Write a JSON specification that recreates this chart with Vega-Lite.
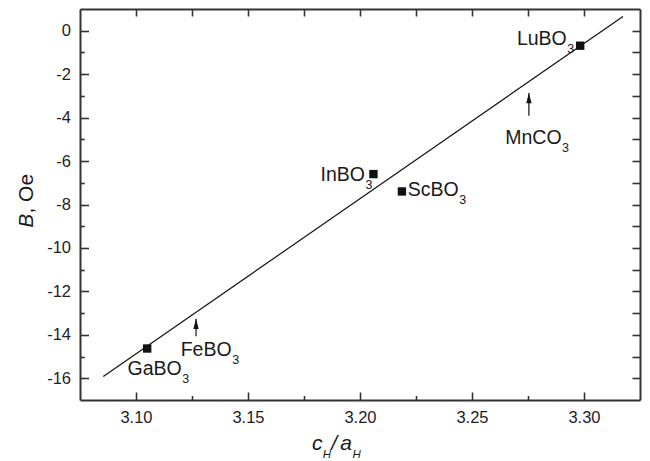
{
  "$schema": "https://vega.github.io/schema/vega-lite/v6.json",
  "width": 560,
  "height": 391,
  "autosize": {"type": "none"},
  "padding": {"left": 80, "top": 9, "right": 10, "bottom": 61},
  "background": "white",
  "view": {"stroke": null},
  "config": {
    "axis": {
      "grid": false,
      "domainColor": "#333333",
      "domainWidth": 2,
      "tickColor": "#333333",
      "tickWidth": 1.6,
      "labelFont": "Liberation Sans",
      "labelFontSize": 16.5,
      "labelColor": "#222222",
      "title": null
    },
    "text": {"font": "Liberation Sans", "color": "#1a1a1a"}
  },
  "datasets": {
    "fit": [{"r": 3.0854, "B": -15.92}, {"r": 3.3174, "B": 0.66}],
    "pts": [
      {"name": "LuBO3", "r": 3.2983, "B": -0.69},
      {"name": "InBO3", "r": 3.206, "B": -6.6},
      {"name": "ScBO3", "r": 3.2187, "B": -7.4},
      {"name": "GaBO3", "r": 3.105, "B": -14.63}
    ],
    "arrows": [
      {"name": "FeBO3", "r": 3.1268, "tip": -13.26, "tail": -14.07},
      {"name": "MnCO3", "r": 3.2754, "tip": -2.87, "tail": -3.91}
    ],
    "labels": [
      {"main": "LuBO", "sub": "3", "r": 3.2923, "B": -0.644},
      {"main": "MnCO", "sub": "3", "r": 3.29, "B": -5.2},
      {"main": "InBO", "sub": "3", "r": 3.2022, "B": -6.94},
      {"main": "ScBO", "sub": "3", "r": 3.2441, "B": -7.6},
      {"main": "FeBO", "sub": "3", "r": 3.1427, "B": -14.99},
      {"main": "GaBO", "sub": "3", "r": 3.1204, "B": -15.84}
    ],
    "xtitle": [
      {"t": "c", "r": 3.1786, "B": -19.29},
      {"t": "/", "r": 3.1872, "B": -19.29},
      {"t": "a", "r": 3.1912, "B": -19.29}
    ],
    "xtitlesub": [
      {"t": "H", "r": 3.1834, "B": -19.29},
      {"t": "H", "r": 3.1966, "B": -19.29}
    ],
    "ytitleB": [{"t": "B", "r": 3.054, "B": -8.42}],
    "ytitleRest": [{"t": ", Oe", "r": 3.054, "B": -8.42}]
  },
  "layer": [
    {
      "data": {"name": "fit"},
      "mark": {"type": "line", "color": "#111111", "strokeWidth": 1.2},
      "encoding": {
        "x": {
          "field": "r", "type": "quantitative",
          "scale": {"domain": [3.075, 3.325], "nice": false, "zero": false},
          "axis": {
            "orient": "bottom",
            "values": [3.1, 3.125, 3.15, 3.175, 3.2, 3.225, 3.25, 3.275, 3.3],
            "labelExpr": "round(datum.value*1000) % 50 == 0 ? format(datum.value, '.2f') : ''",
            "tickSize": {"condition": {"test": "round(datum.value*1000) % 50 == 0", "value": -8}, "value": -4.5},
            "labelPadding": 17
          }
        },
        "y": {
          "field": "B", "type": "quantitative",
          "scale": {"domain": [-17, 1], "nice": false, "zero": false},
          "axis": {
            "orient": "left",
            "values": [-16, -15, -14, -13, -12, -11, -10, -9, -8, -7, -6, -5, -4, -3, -2, -1, 0],
            "labelExpr": "datum.value % 2 == 0 ? '' + datum.value : ''",
            "tickSize": {"condition": {"test": "datum.value % 2 == 0", "value": -8.5}, "value": -4.3},
            "labelPadding": 18
          }
        }
      }
    },
    {
      "data": {"name": "pts"},
      "mark": {"type": "point", "shape": "square", "filled": true, "color": "#111111", "opacity": 1, "size": 70},
      "encoding": {
        "x": {
          "field": "r", "type": "quantitative",
          "scale": {"domain": [3.075, 3.325], "nice": false, "zero": false},
          "axis": {
            "orient": "top",
            "values": [3.1, 3.125, 3.15, 3.175, 3.2, 3.225, 3.25, 3.275, 3.3],
            "labels": false,
            "tickSize": -7
          }
        },
        "y": {
          "field": "B", "type": "quantitative",
          "scale": {"domain": [-17, 1], "nice": false, "zero": false},
          "axis": {
            "orient": "right",
            "values": [-16, -15, -14, -13, -12, -11, -10, -9, -8, -7, -6, -5, -4, -3, -2, -1, 0],
            "labels": false,
            "tickSize": -8
          }
        }
      }
    },
    {
      "data": {"name": "arrows"},
      "mark": {"type": "rule", "color": "#111111", "strokeWidth": 1.2},
      "encoding": {
        "x": {"field": "r", "type": "quantitative", "scale": {"domain": [3.075, 3.325], "nice": false, "zero": false}, "axis": null},
        "y": {"field": "tip", "type": "quantitative", "scale": {"domain": [-17, 1], "nice": false, "zero": false}, "axis": null},
        "y2": {"field": "tail"}
      }
    },
    {
      "data": {"name": "arrows"},
      "mark": {"type": "point", "shape": "M0,-1L0.38,0.45L-0.38,0.45Z", "filled": true, "color": "#111111", "opacity": 1, "size": 200, "yOffset": 7},
      "encoding": {
        "x": {"field": "r", "type": "quantitative", "scale": {"domain": [3.075, 3.325], "nice": false, "zero": false}, "axis": null},
        "y": {"field": "tip", "type": "quantitative", "scale": {"domain": [-17, 1], "nice": false, "zero": false}, "axis": null}
      }
    },
    {
      "data": {"name": "labels"},
      "mark": {"type": "text", "align": "right", "baseline": "alphabetic", "fontSize": 19.5},
      "encoding": {
        "x": {"field": "r", "type": "quantitative", "scale": {"domain": [3.075, 3.325], "nice": false, "zero": false}, "axis": null},
        "y": {"field": "B", "type": "quantitative", "scale": {"domain": [-17, 1], "nice": false, "zero": false}, "axis": null},
        "text": {"field": "main"}
      }
    },
    {
      "data": {"name": "labels"},
      "mark": {"type": "text", "align": "left", "baseline": "alphabetic", "fontSize": 12.5, "dx": 0.5, "dy": 8},
      "encoding": {
        "x": {"field": "r", "type": "quantitative", "scale": {"domain": [3.075, 3.325], "nice": false, "zero": false}, "axis": null},
        "y": {"field": "B", "type": "quantitative", "scale": {"domain": [-17, 1], "nice": false, "zero": false}, "axis": null},
        "text": {"field": "sub"}
      }
    },
    {
      "data": {"name": "xtitle"},
      "mark": {"type": "text", "align": "left", "baseline": "alphabetic", "fontSize": 21, "fontStyle": "italic"},
      "encoding": {
        "x": {"field": "r", "type": "quantitative", "scale": {"domain": [3.075, 3.325], "nice": false, "zero": false}, "axis": null},
        "y": {"field": "B", "type": "quantitative", "scale": {"domain": [-17, 1], "nice": false, "zero": false}, "axis": null},
        "text": {"field": "t"}
      }
    },
    {
      "data": {"name": "xtitlesub"},
      "mark": {"type": "text", "align": "left", "baseline": "alphabetic", "fontSize": 11.5, "fontStyle": "italic", "dy": 8},
      "encoding": {
        "x": {"field": "r", "type": "quantitative", "scale": {"domain": [3.075, 3.325], "nice": false, "zero": false}, "axis": null},
        "y": {"field": "B", "type": "quantitative", "scale": {"domain": [-17, 1], "nice": false, "zero": false}, "axis": null},
        "text": {"field": "t"}
      }
    },
    {
      "data": {"name": "ytitleB"},
      "mark": {"type": "text", "align": "right", "baseline": "alphabetic", "fontSize": 21, "fontStyle": "italic", "angle": 270},
      "encoding": {
        "x": {"field": "r", "type": "quantitative", "scale": {"domain": [3.075, 3.325], "nice": false, "zero": false}, "axis": null},
        "y": {"field": "B", "type": "quantitative", "scale": {"domain": [-17, 1], "nice": false, "zero": false}, "axis": null},
        "text": {"field": "t"}
      }
    },
    {
      "data": {"name": "ytitleRest"},
      "mark": {"type": "text", "align": "left", "baseline": "alphabetic", "fontSize": 21, "angle": 270},
      "encoding": {
        "x": {"field": "r", "type": "quantitative", "scale": {"domain": [3.075, 3.325], "nice": false, "zero": false}, "axis": null},
        "y": {"field": "B", "type": "quantitative", "scale": {"domain": [-17, 1], "nice": false, "zero": false}, "axis": null},
        "text": {"field": "t"}
      }
    }
  ],
  "resolve": {"axis": {"x": "independent", "y": "independent"}}
}
